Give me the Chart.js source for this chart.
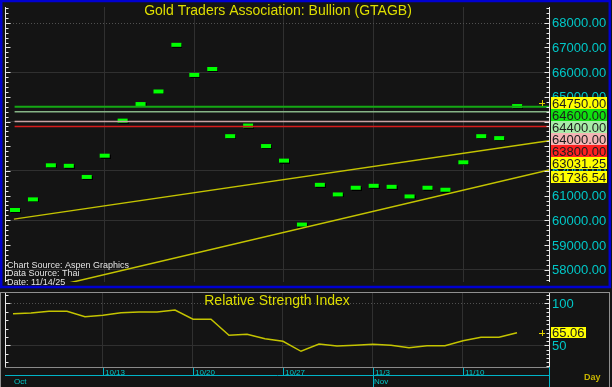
<!DOCTYPE html>
<html>
<head>
<meta charset="utf-8">
<script src="https://cdn.jsdelivr.net/npm/chart.js@4.4.1/dist/chart.umd.min.js"></script>
<style>
  html, body { margin: 0; padding: 0; background: #141414; }
  #wrap { position: relative; width: 612px; height: 387px; overflow: hidden; background: #141414; }
  canvas { position: absolute; left: 0; }
  #top { top: 0; }
  #bot { top: 289px; }
</style>
</head>
<body>
<div id="wrap">
  <canvas id="top" width="612" height="289"></canvas>
  <canvas id="bot" width="612" height="98"></canvas>
</div>
<script>
// trading days shown on the chart
const dates = ['10/6','10/7','10/8','10/9','10/10','10/13','10/14','10/15','10/16','10/17',
  '10/20','10/21','10/22','10/23','10/24','10/27','10/28','10/29','10/30','10/31',
  '11/3','11/4','11/5','11/6','11/7','11/10','11/11','11/12','11/13'];
const closePrices = [60540,60970,62350,62330,61880,62740,64160,64830,65340,67230,
  66010,66250,63530,63960,63130,62540,59950,61560,61170,61440,
  61520,61480,61090,61440,61360,62470,63530,63450,64750];
const rsiValues = [87.6,88.5,90.5,90.5,84.0,85.7,88.8,89.6,89.6,92.0,
  81.0,81.0,61.9,63.1,57.9,54.8,42.9,51.5,49.2,50.0,
  51.2,50.0,47.1,49.5,49.5,55.5,59.5,59.5,65.06];

const priceTicks = [58000,59000,60000,61000,62000,63000,64000,65000,66000,67000,68000];
const rsiTicks = [50, 100];
const weekLabels = ['10/13','10/20','10/27','11/3','11/10'];
const monthLabels = [['Oct','10/6'], ['Nov','11/3']];

// horizontal levels and trend lines (day index, price)
const levelPrices = [64600, 64400, 64000, 63800];
const trendUpper = [[-0.06, 60047], [29.78, 63220]];
const trendLower = [[3, 57460], [29.78, 62041]];
const trendLast = [63031.25, 61736.54];

const X_MIN = -0.4444, X_MAX = 29.7778;
const GRID = '#303030', CYAN = '#00c8c8', TITLE = '#dede00';

const levelColors = ['#14a814', '#86b486', '#c8a4a4', '#d81c1c'];
const boxColors = ['#ffff00', '#10e010', '#a8eca8', '#f4b4b4', '#ff2020', '#ffff00', '#ffff00'];

// green dash marker, top edge sits on the value
const dash = document.createElement('canvas');
dash.width = 12; dash.height = 12;
const dc = dash.getContext('2d');
dc.fillStyle = '#000'; dc.fillRect(2, 8, 10, 4);
dc.fillStyle = '#00ff00'; dc.fillRect(1, 7, 10, 4);

const weekIdx = weekLabels.map(l => dates.indexOf(l));

function xAxis() {
  return {
    type: 'linear', min: X_MIN, max: X_MAX,
    ticks: { display: false },
    grid: { color: GRID, drawTicks: false },
    border: { display: false },
    afterBuildTicks: s => { s.ticks = weekIdx.map(v => ({ value: v })); },
    afterFit: s => { s.height = 0; }
  };
}

function axisTicks(ctx, x, dir, top, bottom, scale, from, to, step, major) {
  ctx.strokeStyle = '#e8e8e8';
  ctx.lineWidth = 1;
  ctx.beginPath();
  ctx.moveTo(x + 0.5, top); ctx.lineTo(x + 0.5, bottom);
  for (let v = from; v <= to; v += step) {
    const y = Math.round(scale.getPixelForValue(v)) + 0.5;
    if (y < top || y > bottom) continue;
    const len = (v % major === 0) ? 5 : 3;
    ctx.moveTo(x + 0.5, y); ctx.lineTo(x + 0.5 + dir * len, y);
  }
  ctx.stroke();
}

function marker(ctx, x, y) {
  ctx.strokeStyle = '#e0d000';
  ctx.lineWidth = 1;
  ctx.beginPath();
  ctx.moveTo(x - 3, y + 0.5); ctx.lineTo(x + 3, y + 0.5);
  ctx.moveTo(x + 0.5, y - 3); ctx.lineTo(x + 0.5, y + 3);
  ctx.stroke();
}

const topPlugin = {
  id: 'topDecor',
  beforeDatasetsDraw(chart) {
    const { ctx, chartArea: a, scales: { y } } = chart;
    ctx.save();
    ctx.strokeStyle = '#505050';
    ctx.setLineDash([1, 2]);
    ctx.beginPath();
    const yy = Math.round(y.getPixelForValue(68000)) + 0.5;
    ctx.moveTo(a.left, yy); ctx.lineTo(a.right, yy);
    ctx.stroke();
    ctx.restore();
  },
  afterDraw(chart) {
    const { ctx, chartArea: a, scales: { y } } = chart;
    ctx.save();
    axisTicks(ctx, 5, 1, a.top, a.bottom, y, 57600, 68600, 200, 1000);
    axisTicks(ctx, 549, -1, a.top, a.bottom, y, 57600, 68600, 200, 1000);

    ctx.font = '13px "Liberation Sans", Arial, sans-serif';
    ctx.textBaseline = 'middle';
    ctx.fillStyle = CYAN;
    priceTicks.forEach(v => ctx.fillText(v.toFixed(2), 552, y.getPixelForValue(v) + 1));

    // stacked value boxes
    const vals = [closePrices[closePrices.length - 1], ...levelPrices, ...trendLast];
    let prev = -100;
    vals.forEach((v, i) => {
      let cy = Math.max(y.getPixelForValue(v), prev + 12);
      prev = cy;
      ctx.fillStyle = boxColors[i];
      ctx.fillRect(551, Math.round(cy - 6), 56, 12);
      ctx.fillStyle = '#1c1c1c';
      ctx.fillText(v.toFixed(2), 552, cy + 1);
    });
    marker(ctx, 542, Math.round(y.getPixelForValue(closePrices[closePrices.length - 1])));

    ctx.textBaseline = 'alphabetic';
    ctx.font = '14px "Liberation Sans", Arial, sans-serif';
    ctx.fillStyle = TITLE;
    ctx.textAlign = 'center';
    ctx.fillText('Gold Traders Association: Bullion (GTAGB)', (a.left + a.right) / 2, 15);

    ctx.textAlign = 'left';
    ctx.font = '9px "Liberation Sans", Arial, sans-serif';
    ctx.fillStyle = '#e4e4e4';
    ctx.fillText('Chart Source: Aspen Graphics', 7, 267.5);
    ctx.fillText('Data Source: Thai', 7, 276.3);
    ctx.fillText('Date: 11/14/25', 7, 285);

    ctx.strokeStyle = '#0000d0';
    ctx.lineWidth = 2.5;
    ctx.strokeRect(1.2, 1, 608.6, 286);
    ctx.restore();
  }
};

const botPlugin = {
  id: 'botDecor',
  beforeDatasetsDraw(chart) {
    const { ctx, chartArea: a, scales: { y } } = chart;
    ctx.save();
    ctx.strokeStyle = '#505050';
    ctx.setLineDash([1, 2]);
    ctx.beginPath();
    const yy = Math.round(y.getPixelForValue(100)) + 0.5;
    ctx.moveTo(a.left, yy); ctx.lineTo(a.right, yy);
    ctx.stroke();
    ctx.restore();
  },
  afterDraw(chart) {
    const { ctx, chartArea: a, scales: { x, y } } = chart;
    ctx.save();
    axisTicks(ctx, 5, 1, a.top, a.bottom, y, 30, 110, 10, 50);
    axisTicks(ctx, 549, -1, a.top, a.bottom, y, 25, 110, 5, 50);

    ctx.font = '13px "Liberation Sans", Arial, sans-serif';
    ctx.textBaseline = 'middle';
    ctx.fillStyle = CYAN;
    rsiTicks.forEach(v => ctx.fillText(String(v), 552, y.getPixelForValue(v) + 1));

    const last = rsiValues[rsiValues.length - 1];
    const cy = y.getPixelForValue(last);
    ctx.fillStyle = '#ffff00';
    ctx.fillRect(551, Math.round(cy - 5.5), 35, 11);
    ctx.fillStyle = '#1c1c1c';
    ctx.fillText(last.toFixed(2), 552, cy + 1);
    marker(ctx, 542, Math.round(cy));

    ctx.textBaseline = 'alphabetic';
    ctx.font = '14px "Liberation Sans", Arial, sans-serif';
    ctx.fillStyle = TITLE;
    ctx.textAlign = 'center';
    ctx.fillText('Relative Strength Index', (a.left + a.right) / 2, 16);

    // plot bottom edge
    ctx.strokeStyle = '#8a8a8a';
    ctx.lineWidth = 1;
    ctx.beginPath();
    ctx.moveTo(a.left, a.bottom + 0.5); ctx.lineTo(a.right, a.bottom + 0.5);
    ctx.stroke();

    // date strip
    const base = a.bottom + 8.5;
    ctx.strokeStyle = '#00b4c8';
    ctx.beginPath();
    ctx.moveTo(a.left, base); ctx.lineTo(a.right + 1, base);
    ctx.moveTo(a.right + 0.5, a.bottom); ctx.lineTo(a.right + 0.5, 98);
    weekIdx.forEach(i => {
      const px = Math.round(x.getPixelForValue(i)) + 0.5;
      const isMonth = monthLabels.some(m => m[1] === dates[i]);
      ctx.moveTo(px, a.bottom + 1); ctx.lineTo(px, isMonth ? 98 : base);
    });
    ctx.stroke();

    ctx.textAlign = 'left';
    ctx.font = '8px "Liberation Sans", Arial, sans-serif';
    ctx.fillStyle = CYAN;
    weekLabels.forEach((l, k) => {
      ctx.fillText(l, Math.round(x.getPixelForValue(weekIdx[k])) + 2, a.bottom + 7.5);
    });
    monthLabels.forEach(m => {
      ctx.fillText(m[0], Math.round(x.getPixelForValue(dates.indexOf(m[1]))) + 1, a.bottom + 16.5);
    });

    ctx.font = 'bold 9px "Liberation Sans", Arial, sans-serif';
    ctx.fillStyle = '#c8b400';
    ctx.fillText('Day', 584, a.bottom + 13);

    ctx.strokeStyle = '#909090';
    ctx.strokeRect(0.5, 3.5, 609, 95);
    ctx.restore();
  }
};

const base = { animation: false, responsive: false, events: [] };

const levelSets = levelPrices.map((v, i) => ({
  data: [{ x: -0.02, y: v }, { x: X_MAX, y: v }],
  borderColor: levelColors[i], borderWidth: i === 0 ? 2 : 1.5,
  pointRadius: 0, showLine: true
}));

new Chart(document.getElementById('top'), {
  type: 'scatter',
  data: {
    datasets: [
      ...levelSets,
      { data: trendUpper.map(p => ({ x: p[0], y: p[1] })), borderColor: '#c4c400', borderWidth: 1.5, pointRadius: 0, showLine: true },
      { data: trendLower.map(p => ({ x: p[0], y: p[1] })), borderColor: '#c4c400', borderWidth: 1.5, pointRadius: 0, showLine: true },
      { data: closePrices.map((v, i) => ({ x: i, y: v })), pointStyle: dash, pointRadius: 6, showLine: false }
    ]
  },
  options: {
    ...base,
    layout: { padding: { left: 5, right: 2, top: 3, bottom: 3 } },
    plugins: { legend: { display: false }, tooltip: { enabled: false } },
    scales: {
      x: xAxis(),
      y: {
        position: 'right', min: 57500, max: 68640,
        ticks: { display: false },
        grid: { drawTicks: false, color: c => (c.tick.value % 2000 === 0 && c.tick.value !== 68000) ? GRID : 'rgba(0,0,0,0)' },
        border: { display: false },
        afterBuildTicks: s => { s.ticks = priceTicks.map(v => ({ value: v })); },
        afterFit: s => { s.width = 61; }
      }
    }
  },
  plugins: [topPlugin]
});

new Chart(document.getElementById('bot'), {
  type: 'line',
  data: {
    datasets: [
      { data: rsiValues.map((v, i) => ({ x: i, y: v })), borderColor: '#c4c400', borderWidth: 1.5, pointRadius: 0, tension: 0 }
    ]
  },
  options: {
    ...base,
    layout: { padding: { left: 5, right: 2, top: 4, bottom: 20 } },
    plugins: { legend: { display: false }, tooltip: { enabled: false } },
    scales: {
      x: xAxis(),
      y: {
        position: 'right', min: 24.2, max: 112.3,
        ticks: { display: false },
        grid: { drawTicks: false, color: c => c.tick.value === 50 ? GRID : 'rgba(0,0,0,0)' },
        border: { display: false },
        afterBuildTicks: s => { s.ticks = rsiTicks.map(v => ({ value: v })); },
        afterFit: s => { s.width = 61; }
      }
    }
  },
  plugins: [botPlugin]
});
</script>
</body>
</html>
